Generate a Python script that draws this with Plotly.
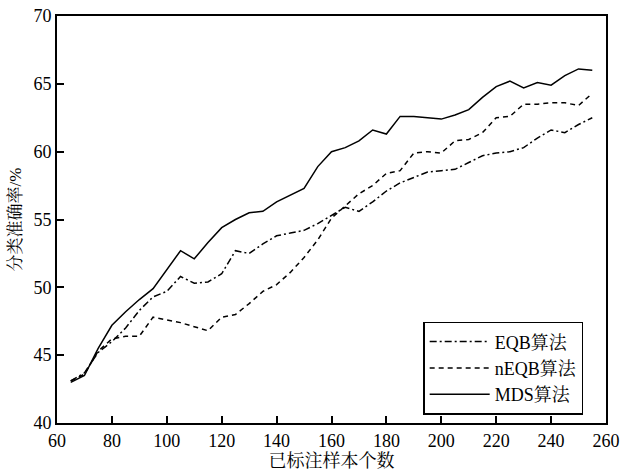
import plotly.graph_objects as go

x_vals = [65, 70, 75, 80, 85, 90, 95, 100, 105, 110, 115, 120, 125, 130, 135, 140, 145, 150, 155, 160,
          165, 170, 175, 180, 185, 190, 195, 200, 205, 210, 215, 220, 225, 230, 235, 240, 245, 250, 255]

eqb = [43.1, 43.7, 45.2, 46.0, 47.0, 48.3, 49.3, 49.7, 50.8, 50.3, 50.4, 51.0, 52.7, 52.5, 53.2, 53.8,
       54.0, 54.2, 54.7, 55.3, 55.9, 55.6, 56.3, 57.1, 57.7, 58.1, 58.5, 58.6, 58.7, 59.2, 59.7, 59.9,
       60.0, 60.3, 61.0, 61.6, 61.4, 62.0, 62.5]

neqb = [43.1, 43.6, 45.3, 46.2, 46.4, 46.4, 47.8, 47.6, 47.4, 47.1, 46.8, 47.8, 48.0, 48.8, 49.7, 50.2,
        51.1, 52.2, 53.5, 55.1, 56.0, 56.9, 57.5, 58.4, 58.6, 59.9, 60.0, 59.9, 60.8, 60.9, 61.4, 62.5,
        62.6, 63.5, 63.5, 63.6, 63.6, 63.4, 64.3]

mds = [43.0, 43.5, 45.5, 47.2, 48.2, 49.1, 49.9, 51.3, 52.7, 52.1, 53.3, 54.4, 55.0, 55.5, 55.6, 56.3,
       56.8, 57.3, 58.9, 60.0, 60.3, 60.8, 61.6, 61.3, 62.6, 62.6, 62.5, 62.4, 62.7, 63.1, 64.0, 64.8,
       65.2, 64.7, 65.1, 64.9, 65.6, 66.1, 66.0]

series_names = ["EQB算法", "nEQB算法", "MDS算法"]
x_ticks = [60, 80, 100, 120, 140, 160, 180, 200, 220, 240, 260]
y_ticks = [40, 45, 50, 55, 60, 65, 70]

FONT = "Liberation Serif, Noto Serif CJK SC, Noto Sans CJK SC, serif"

fig = go.Figure()
fig.add_trace(go.Scatter(x=x_vals, y=eqb, mode="lines", name=series_names[0],
                         line=dict(color="black", width=1.5, dash="7px,3px,2px,3px")))
fig.add_trace(go.Scatter(x=x_vals, y=neqb, mode="lines", name=series_names[1],
                         line=dict(color="black", width=1.5, dash="5px,4px")))
fig.add_trace(go.Scatter(x=x_vals, y=mds, mode="lines", name=series_names[2],
                         line=dict(color="black", width=1.5)))

axis_common = dict(showgrid=False, zeroline=False, showline=True, linecolor="black", linewidth=2,
                   mirror=True, ticks="inside", ticklen=7, tickwidth=1.5, tickcolor="black",
                   automargin=False, ticklabeloverflow="allow",
                   tickfont=dict(family=FONT, size=18, color="black"))

fig.update_layout(
    width=621, height=474,
    margin=dict(l=57, r=15, t=16, b=51),
    paper_bgcolor="white", plot_bgcolor="white",
    font=dict(family=FONT, color="black"),
    xaxis=dict(range=[60, 260], tickvals=x_ticks, **axis_common,
               title=dict(text="已标注样本个数", font=dict(family=FONT, size=18), standoff=2)),
    yaxis=dict(range=[40, 70], tickvals=y_ticks, **axis_common,
               title=dict(text="分类准确率/%", font=dict(family=FONT, size=17), standoff=7)),
    legend=dict(x=0.667, y=0.02, xanchor="left", yanchor="bottom",
                bordercolor="black", borderwidth=1.5, bgcolor="white",
                font=dict(family=FONT, size=18, color="black"),
                itemwidth=60, tracegroupgap=0),
    showlegend=True,
)

# remove the browser's default body margin so the figure sits at the page origin
fig.write_html("out.html", config={"displayModeBar": False},
               post_script="document.body.style.margin='0';")
